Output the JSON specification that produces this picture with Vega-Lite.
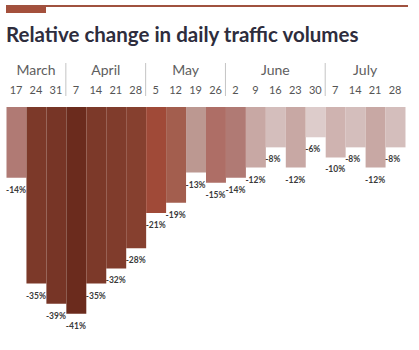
{
  "$schema": "https://vega.github.io/schema/vega-lite/v6.json",
  "padding": {"left": 6, "top": 5, "right": 5, "bottom": 5},
  "background": "white",
  "config": {
    "view": {"stroke": null},
    "font": "Lato",
    "locale": {"number": {"decimal": ".", "thousands": ",", "grouping": [3], "currency": ["$", ""], "minus": "-"}}
  },
  "datasets": {
    "weeks": [
      {"month": "March", "day": 17, "pct": -0.14},
      {"month": "March", "day": 24, "pct": -0.35},
      {"month": "March", "day": 31, "pct": -0.39},
      {"month": "April", "day": 7, "pct": -0.41},
      {"month": "April", "day": 14, "pct": -0.35},
      {"month": "April", "day": 21, "pct": -0.32},
      {"month": "April", "day": 28, "pct": -0.28},
      {"month": "May", "day": 5, "pct": -0.21},
      {"month": "May", "day": 12, "pct": -0.19},
      {"month": "May", "day": 19, "pct": -0.13},
      {"month": "May", "day": 26, "pct": -0.15},
      {"month": "June", "day": 2, "pct": -0.14},
      {"month": "June", "day": 9, "pct": -0.12},
      {"month": "June", "day": 16, "pct": -0.08},
      {"month": "June", "day": 23, "pct": -0.12},
      {"month": "June", "day": 30, "pct": -0.06},
      {"month": "July", "day": 7, "pct": -0.10},
      {"month": "July", "day": 14, "pct": -0.08},
      {"month": "July", "day": 21, "pct": -0.12},
      {"month": "July", "day": 28, "pct": -0.08}
    ]
  },
  "spacing": 13,
  "vconcat": [
    {
      "spacing": 0,
      "vconcat": [
        {"data": {"values": [{}]}, "width": 402, "height": 2, "mark": {"type": "rect", "color": "#a0523f"}, "encoding": {}},
        {"data": {"values": [{}]}, "width": 40, "height": 6, "mark": {"type": "rect", "color": "#a4503c"}, "encoding": {}}
      ]
    },
    {
      "spacing": 10,
      "vconcat": [
        {
          "title": {"text": "Relative change in daily traffic volumes", "anchor": "start", "fontSize": 20.5, "fontWeight": "bold", "color": "#2e2d3d", "font": "Lato", "offset": 16},
          "data": {"name": "weeks"},
          "transform": [{"window": [{"op": "row_number", "as": "i"}]}],
          "width": 399,
          "height": 33,
          "layer": [
            {
              "transform": [
                {"aggregate": [{"op": "min", "field": "i", "as": "first"}], "groupby": ["month"]},
                {"filter": "datum.first > 1"}
              ],
              "mark": {"type": "rule", "color": "#c4c4c4", "strokeWidth": 1},
              "encoding": {"x": {"field": "first", "type": "quantitative", "scale": {"domain": [1, 21], "nice": false, "zero": false}, "axis": null}}
            },
            {
              "mark": {"type": "text", "dx": 10, "dy": -9, "fontSize": 14, "color": "#5e5e5e"},
              "encoding": {
                "x": {"field": "i", "aggregate": "mean", "type": "quantitative", "axis": null},
                "text": {"field": "month", "type": "nominal"}
              }
            },
            {
              "mark": {"type": "text", "dx": 10, "dy": 11, "fontSize": 11, "color": "#555555"},
              "encoding": {
                "x": {"field": "i", "type": "quantitative", "axis": null},
                "text": {"field": "day", "type": "nominal"}
              }
            }
          ]
        },
        {
          "data": {"name": "weeks"},
          "transform": [{"window": [{"op": "row_number", "as": "i"}]}],
          "width": 399,
          "height": 222,
          "layer": [
            {
              "mark": {"type": "bar", "binSpacing": 0},
              "encoding": {
                "x": {"field": "i", "bin": {"step": 1, "extent": [1, 21]}, "type": "quantitative", "scale": {"domain": [1, 21], "nice": false, "zero": false}, "axis": null},
                "y": {"field": "pct", "type": "quantitative", "scale": {"domain": [-0.44, 0], "nice": false}, "axis": null},
                "color": {
                  "field": "pct", "type": "quantitative", "legend": null,
                  "scale": {
                    "domain": [-0.41, -0.39, -0.35, -0.28, -0.21, -0.19, -0.15, -0.14, -0.13, -0.12, -0.10, -0.08, -0.06],
                    "range": ["#6b2b1d", "#773526", "#7c3929", "#86402f", "#a04a38", "#a35e4e", "#ae6e66", "#b07a74", "#bc9891", "#c8a8a4", "#cfb3b0", "#d4bebc", "#ddcccb"]
                  }
                }
              }
            },
            {
              "mark": {"type": "text", "align": "left", "baseline": "middle", "dy": 12, "fontSize": 8.5, "fontWeight": "bold", "color": "#3a3a3a"},
              "encoding": {
                "x": {"field": "i", "type": "quantitative"},
                "y": {"field": "pct", "type": "quantitative"},
                "text": {"field": "pct", "type": "quantitative", "format": ".0%"}
              }
            }
          ]
        }
      ]
    }
  ]
}
